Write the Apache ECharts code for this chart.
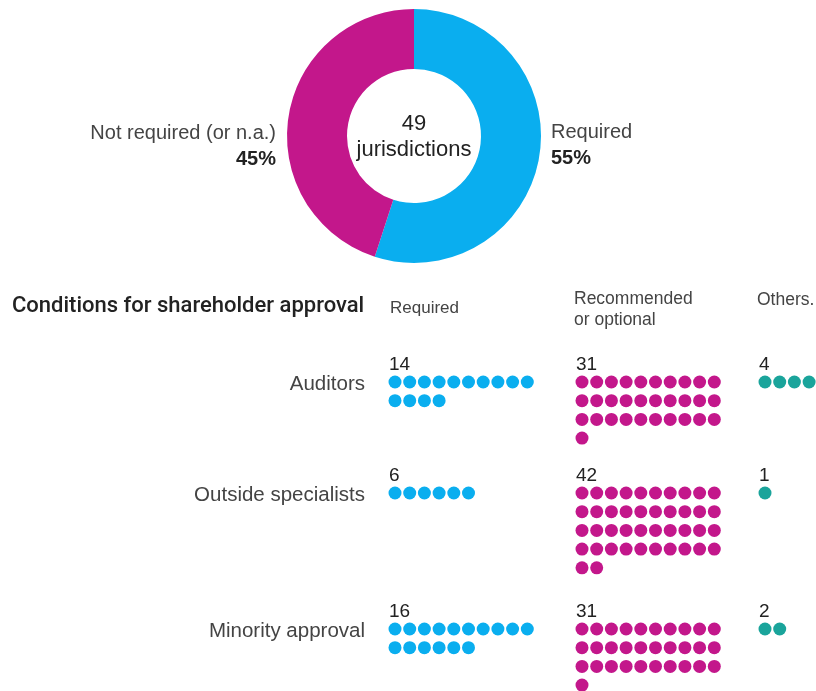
<!DOCTYPE html>
<html>
<head>
<meta charset="utf-8">
<script src="https://cdn.jsdelivr.net/npm/echarts@6/dist/echarts.min.js"></script>
<style>
  html, body { margin: 0; padding: 0; background: #fff; }
  #chart { width: 816px; height: 691px; }
</style>
</head>
<body>
<div id="chart"></div>
<script>
// donut data
const shareNames = ["Required", "Not required (or n.a.)"];
const shareValues = [55, 45];
const totalJurisdictions = 49;

// dot grid data
const conditions = ["Auditors", "Outside specialists", "Minority approval"];
const groups = ["Required", "Recommended\nor optional", "Others."];
const requiredCounts = [14, 6, 16];
const recommendedCounts = [31, 42, 31];
const othersCounts = [4, 1, 2];

const colors = ["#0AAEEF", "#C3178B", "#1AA49B"];
const textFont = "Liberation Sans";

// layout (pixels)
const groupX = [395, 582, 765];
const blockTop = [382, 493, 629];
const perRow = 10;
const stepX = 14.7;
const stepY = 18.7;

function dots(counts, g) {
  const pts = [];
  counts.forEach((n, i) => {
    for (let k = 0; k < n; k++) {
      pts.push([groupX[g] + (k % perRow) * stepX, blockTop[i] + Math.floor(k / perRow) * stepY]);
    }
  });
  return pts;
}

const chart = echarts.init(document.getElementById("chart"));

const texts = [];
function txt(x, y, s, opt) {
  texts.push({
    type: "text",
    x: x,
    y: y,
    silent: true,
    style: Object.assign({
      text: s,
      fill: "#333",
      font: "20px '" + textFont + "'",
      textAlign: "left",
      textVerticalAlign: "middle"
    }, opt || {})
  });
}

// donut labels
txt(414, 124, String(totalJurisdictions), { textAlign: "center", fill: "#222", font: "22px '" + textFont + "'" });
txt(414, 150, "jurisdictions", { textAlign: "center", fill: "#222", font: "22px '" + textFont + "'" });
txt(276, 133, shareNames[1], { textAlign: "right", fill: "#444" });
txt(276, 159, shareValues[1] + "%", { textAlign: "right", fill: "#222", font: "bold 20px '" + textFont + "'" });
txt(551, 132, shareNames[0], { fill: "#444" });
txt(551, 158, shareValues[0] + "%", { fill: "#222", font: "bold 20px '" + textFont + "'" });

// section headers
txt(12, 306, "Conditions for shareholder approval", { fill: "#222", font: "500 22px Roboto" });
txt(390, 308, groups[0], { fill: "#444", font: "17px '" + textFont + "'" });
txt(574, 310, groups[1], { fill: "#444", font: "17.5px '" + textFont + "'", lineHeight: 21 });
txt(757, 300, groups[2], { fill: "#444", font: "17.5px '" + textFont + "'" });

// row labels and counts
const allCounts = [requiredCounts, recommendedCounts, othersCounts];
conditions.forEach((c, i) => {
  txt(365, blockTop[i] + 2, c, { textAlign: "right", fill: "#444", font: "20.5px '" + textFont + "'" });
  allCounts.forEach((arr, g) => {
    txt(groupX[g] - 6, blockTop[i] - 17, String(arr[i]), { fill: "#222", font: "19px '" + textFont + "'" });
  });
});

chart.setOption({
  animation: false,
  grid: { left: 0, right: 0, top: 0, bottom: 0 },
  xAxis: { type: "value", min: 0, max: 816, show: false },
  yAxis: { type: "value", min: 0, max: 691, inverse: true, show: false },
  graphic: texts,
  series: [
    {
      type: "pie",
      center: [414, 136],
      radius: [67, 127],
      startAngle: 90,
      clockwise: true,
      label: { show: false },
      labelLine: { show: false },
      itemStyle: { borderWidth: 0 },
      emphasis: { disabled: true },
      data: shareNames.map((n, i) => ({ name: n, value: shareValues[i], itemStyle: { color: colors[i] } }))
    },
    {
      type: "scatter",
      symbolSize: 13,
      itemStyle: { color: colors[0], opacity: 1 },
      data: dots(requiredCounts, 0)
    },
    {
      type: "scatter",
      symbolSize: 13,
      itemStyle: { color: colors[1], opacity: 1 },
      data: dots(recommendedCounts, 1)
    },
    {
      type: "scatter",
      symbolSize: 13,
      itemStyle: { color: colors[2], opacity: 1 },
      data: dots(othersCounts, 2)
    }
  ]
});
</script>
</body>
</html>
